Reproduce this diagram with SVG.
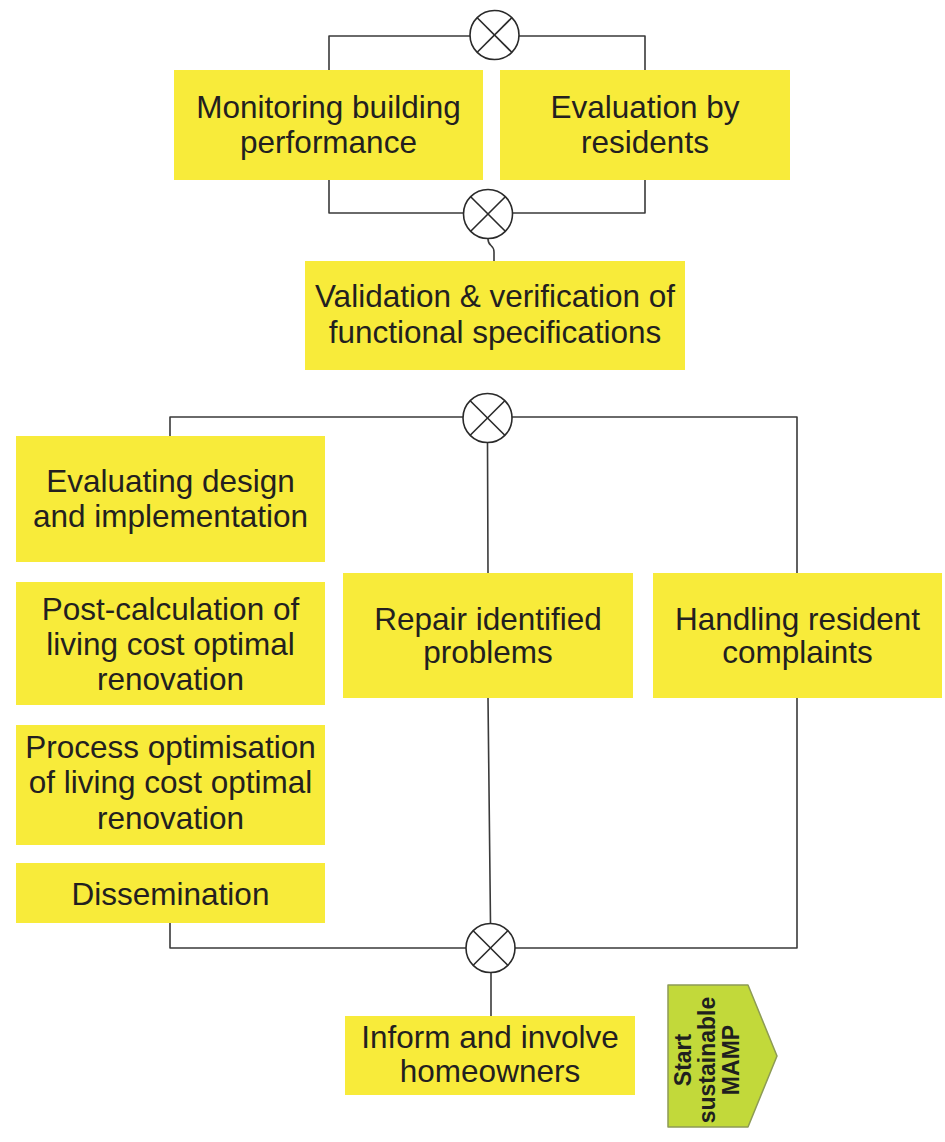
<svg xmlns="http://www.w3.org/2000/svg" width="945" height="1142" viewBox="0 0 945 1142">
  <style>
    .box { fill: #f8eb3a; }
    .lbl { font-family: "Liberation Sans", Arial, sans-serif; font-size: 31.5px; fill: #231f20; text-anchor: middle; }
    .wire { fill: none; stroke: #3a3a3a; stroke-width: 1.6; stroke-linejoin: round; stroke-linecap: round; }
    .start { fill: #c2d93a; stroke: #8d9b55; stroke-width: 1.5; stroke-linejoin: round; }
    .startlbl { font-family: "Liberation Sans", Arial, sans-serif; font-size: 23px; font-weight: bold; fill: #1f1f1f; text-anchor: middle; }
  </style>
  <defs>
    <!-- XOR gateway: circle with a cross -->
    <g id="xor" fill="#ffffff" stroke="#2a2a2a" stroke-width="1.6">
      <circle cx="0" cy="0" r="24.5"/>
      <line x1="-17.3" y1="-17.3" x2="17.3" y2="17.3"/>
      <line x1="-17.3" y1="17.3" x2="17.3" y2="-17.3"/>
    </g>
  </defs>
  <rect width="945" height="1142" fill="#ffffff"/>

  <!-- connectors (drawn below the boxes) -->
  <g id="connectors">
    <path class="wire" d="M329,70 V36 H645 V70"/>
    <path class="wire" d="M329,180 V213 H645 V180"/>
    <path class="wire" d="M488,239 C488,247 494,244 494,252 L494,261"/>
    <path class="wire" d="M170,436 V417 H797 V948 H170 V923"/>
    <path class="wire" d="M487.5,443 L488,573"/>
    <path class="wire" d="M488,698 L490.5,923"/>
    <path class="wire" d="M491,973 V1016"/>
  </g>

  <!-- gateways -->
  <g id="gateway-top"><use href="#xor" x="494.5" y="35"/></g>
  <g id="gateway-merge"><use href="#xor" x="488" y="214"/></g>
  <g id="gateway-split"><use href="#xor" x="487.5" y="418"/></g>
  <g id="gateway-join"><use href="#xor" x="490.5" y="948"/></g>

  <g id="monitoring">
    <rect class="box" x="174" y="70" width="309" height="110"/>
    <text class="lbl" x="328.5" y="118">Monitoring building</text>
    <text class="lbl" x="328.5" y="153">performance</text>
  </g>
  <g id="evaluation-residents">
    <rect class="box" x="500" y="70" width="290" height="110"/>
    <text class="lbl" x="645" y="118">Evaluation by</text>
    <text class="lbl" x="645" y="153">residents</text>
  </g>
  <g id="validation">
    <rect class="box" x="305" y="261" width="380" height="109"/>
    <text class="lbl" x="495" y="307">Validation &amp; verification of</text>
    <text class="lbl" x="495" y="343">functional specifications</text>
  </g>
  <g id="evaluating-design">
    <rect class="box" x="16" y="436" width="309" height="126"/>
    <text class="lbl" x="170.5" y="492">Evaluating design</text>
    <text class="lbl" x="170.5" y="527">and implementation</text>
  </g>
  <g id="post-calculation">
    <rect class="box" x="16" y="582" width="309" height="123"/>
    <text class="lbl" x="170.5" y="620">Post-calculation of</text>
    <text class="lbl" x="170.5" y="655">living cost optimal</text>
    <text class="lbl" x="170.5" y="690">renovation</text>
  </g>
  <g id="process-optimisation">
    <rect class="box" x="16" y="725" width="309" height="120"/>
    <text class="lbl" x="170.5" y="758">Process optimisation</text>
    <text class="lbl" x="170.5" y="793">of living cost optimal</text>
    <text class="lbl" x="170.5" y="829">renovation</text>
  </g>
  <g id="dissemination">
    <rect class="box" x="16" y="863" width="309" height="60"/>
    <text class="lbl" x="170.5" y="905">Dissemination</text>
  </g>
  <g id="repair">
    <rect class="box" x="343" y="573" width="290" height="125"/>
    <text class="lbl" x="488" y="630">Repair identified</text>
    <text class="lbl" x="488" y="663">problems</text>
  </g>
  <g id="complaints">
    <rect class="box" x="653" y="573" width="289" height="125"/>
    <text class="lbl" x="797.5" y="630">Handling resident</text>
    <text class="lbl" x="797.5" y="663">complaints</text>
  </g>
  <g id="inform">
    <rect class="box" x="345" y="1016" width="290" height="79"/>
    <text class="lbl" x="490" y="1048">Inform and involve</text>
    <text class="lbl" x="490" y="1082">homeowners</text>
  </g>
  <g id="start-mamp">
    <path class="start" d="M668,985 H748 L777,1056 L748,1127 H668 Z"/>
    <g transform="translate(707,1060) rotate(-90)">
      <text class="startlbl" x="0" y="-16">Start</text>
      <text class="startlbl" x="0" y="8">sustainable</text>
      <text class="startlbl" x="0" y="32">MAMP</text>
    </g>
  </g>
</svg>
